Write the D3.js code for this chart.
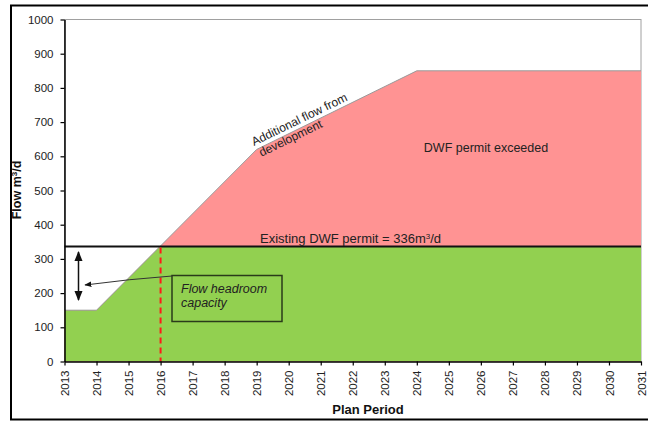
<!DOCTYPE html>
<html><head><meta charset="utf-8">
<script src="https://cdn.jsdelivr.net/npm/d3@7"></script>
<style>
html,body{margin:0;padding:0;background:#fff;}
svg text{font-family:"Liberation Sans",Arial,sans-serif;}
</style></head>
<body>
<svg id="c" width="648" height="421"></svg>
<script>
// Data
const years = [2013, 2014, 2019, 2024, 2031];
const totalFlow = [150, 150, 620, 850, 850];
const permit = 336;
const devYear = 2016;
const yTicks = [0,100,200,300,400,500,600,700,800,900,1000];
const xTicks = d3.range(2013, 2032);

const svg = d3.select("#c");
const m = {l:64.5, r:641, t:19.5, b:361.5};
const x = d3.scaleLinear().domain([2013,2031]).range([m.l, m.r]);
const y = d3.scaleLinear().domain([0,1000]).range([m.b, m.t]);

const pts = years.map((yr,i)=>({yr, v: totalFlow[i]}));

// outer frame
svg.append("rect").attr("x",11).attr("y",5.5).attr("width",700).attr("height",414)
  .attr("fill","none").attr("stroke","#000").attr("stroke-width",2);

// plot border grey
svg.append("rect").attr("x",m.l).attr("y",m.t).attr("width",m.r-m.l).attr("height",m.b-m.t)
  .attr("fill","#fff").attr("stroke","#a0a0a0").attr("stroke-width",1);

// clip for total area
svg.append("clipPath").attr("id","totclip").append("path")
  .attr("d", d3.area().x(d=>x(d.yr)).y0(y(0)).y1(d=>y(d.v))(pts));

// red: total area
svg.append("path").attr("d", d3.area().x(d=>x(d.yr)).y0(y(0)).y1(d=>y(d.v))(pts))
  .attr("fill","#ff9393");
// green: up to permit, clipped by total
svg.append("rect").attr("x",x(2013)).attr("y",y(permit)).attr("width",x(2031)-x(2013))
  .attr("height",y(0)-y(permit)).attr("fill","#92d050").attr("clip-path","url(#totclip)");

// total line grey
svg.append("path").attr("d", d3.line().x(d=>x(d.yr)).y(d=>y(d.v))(pts))
  .attr("fill","none").attr("stroke","#9a9a9a").attr("stroke-width",1);

// permit line
svg.append("line").attr("x1",x(2013)).attr("x2",x(2031)).attr("y1",y(permit)).attr("y2",y(permit))
  .attr("stroke","#111").attr("stroke-width",2);

// dev year dashed
svg.append("line").attr("x1",x(devYear)).attr("x2",x(devYear)).attr("y1",y(permit)+1).attr("y2",y(0))
  .attr("stroke","#ff1a1a").attr("stroke-width",2).attr("stroke-dasharray","6,4");

// axes
const ya = svg.append("g").attr("transform",`translate(${m.l},0)`)
  .call(d3.axisLeft(y).tickValues(yTicks).tickSize(4).tickSizeOuter(0).tickFormat(d3.format("d")));
ya.select(".domain").attr("stroke","#000").attr("stroke-width",1.5);
ya.selectAll(".tick line").attr("stroke","#000").attr("stroke-width",1.2);
ya.selectAll(".tick text").attr("font-size","11.5px").attr("fill","#222").attr("x",-11);

const xa = svg.append("g").attr("transform",`translate(0,${m.b})`)
  .call(d3.axisBottom(x).tickValues(xTicks).tickSize(4).tickSizeOuter(0).tickFormat(d3.format("d")));
xa.select(".domain").attr("stroke","#000").attr("stroke-width",1.5);
xa.selectAll(".tick line").attr("stroke","#000").attr("stroke-width",1.2);
xa.selectAll(".tick text").attr("font-size","11.5px").attr("fill","#222")
  .attr("transform","rotate(-90)").attr("text-anchor","end").attr("x",-9).attr("y",0).attr("dy","0.35em");

// axis titles
svg.append("text").attr("transform","translate(21,190) rotate(-90)").attr("text-anchor","middle")
  .attr("font-size","12.5px").attr("font-weight","bold").attr("fill","#111")
  .html('Flow m<tspan dy="-4" font-size="8px">3</tspan><tspan dy="4">/d</tspan>');
svg.append("text").attr("x",368).attr("y",414).attr("text-anchor","middle")
  .attr("font-size","13px").attr("font-weight","bold").attr("fill","#111").text("Plan Period");

// annotations
svg.append("text").attr("x",486).attr("y",152).attr("text-anchor","middle")
  .attr("font-size","12.5px").attr("fill","#222").text("DWF permit exceeded");
svg.append("text").attr("x",260).attr("y",243)
  .attr("font-size","13px").attr("fill","#222")
  .html('Existing DWF permit = 336m<tspan dy="-4" font-size="8px">3</tspan><tspan dy="4">/d</tspan>');

const g = svg.append("g").attr("transform","translate(254,146) rotate(-26)");
g.append("text").attr("x",0).attr("y",0).attr("font-size","12px").attr("fill","#222").text("Additional flow from");
g.append("text").attr("x",2).attr("y",13).attr("font-size","12px").attr("fill","#222").text("development");

// headroom box
svg.append("rect").attr("x",172).attr("y",275.5).attr("width",110).attr("height",46)
  .attr("fill","none").attr("stroke","#2a3a1a").attr("stroke-width",1.5);
svg.append("text").attr("x",181).attr("y",293).attr("font-size","12.5px").attr("font-style","italic").attr("fill","#222").text("Flow headroom");
svg.append("text").attr("x",181).attr("y",307).attr("font-size","12.5px").attr("font-style","italic").attr("fill","#222").text("capacity");

// arrow markers
const defs = svg.append("defs");
defs.append("marker").attr("id","ah").attr("viewBox","0 0 10 10").attr("refX",9).attr("refY",5)
  .attr("markerWidth",7).attr("markerHeight",7).attr("orient","auto-start-reverse")
  .append("path").attr("d","M0,1 L10,5 L0,9 Z").attr("fill","#111");

svg.append("line").attr("x1",78.5).attr("x2",78.5).attr("y1",252).attr("y2",300)
  .attr("stroke","#111").attr("stroke-width",1.5)
  .attr("marker-start","url(#ah)").attr("marker-end","url(#ah)");
svg.append("path").attr("d","M172,276 Q130,279 85,285")
  .attr("fill","none").attr("stroke","#333").attr("stroke-width",1)
  .attr("marker-end","url(#ah)");
</script>
</body></html>
